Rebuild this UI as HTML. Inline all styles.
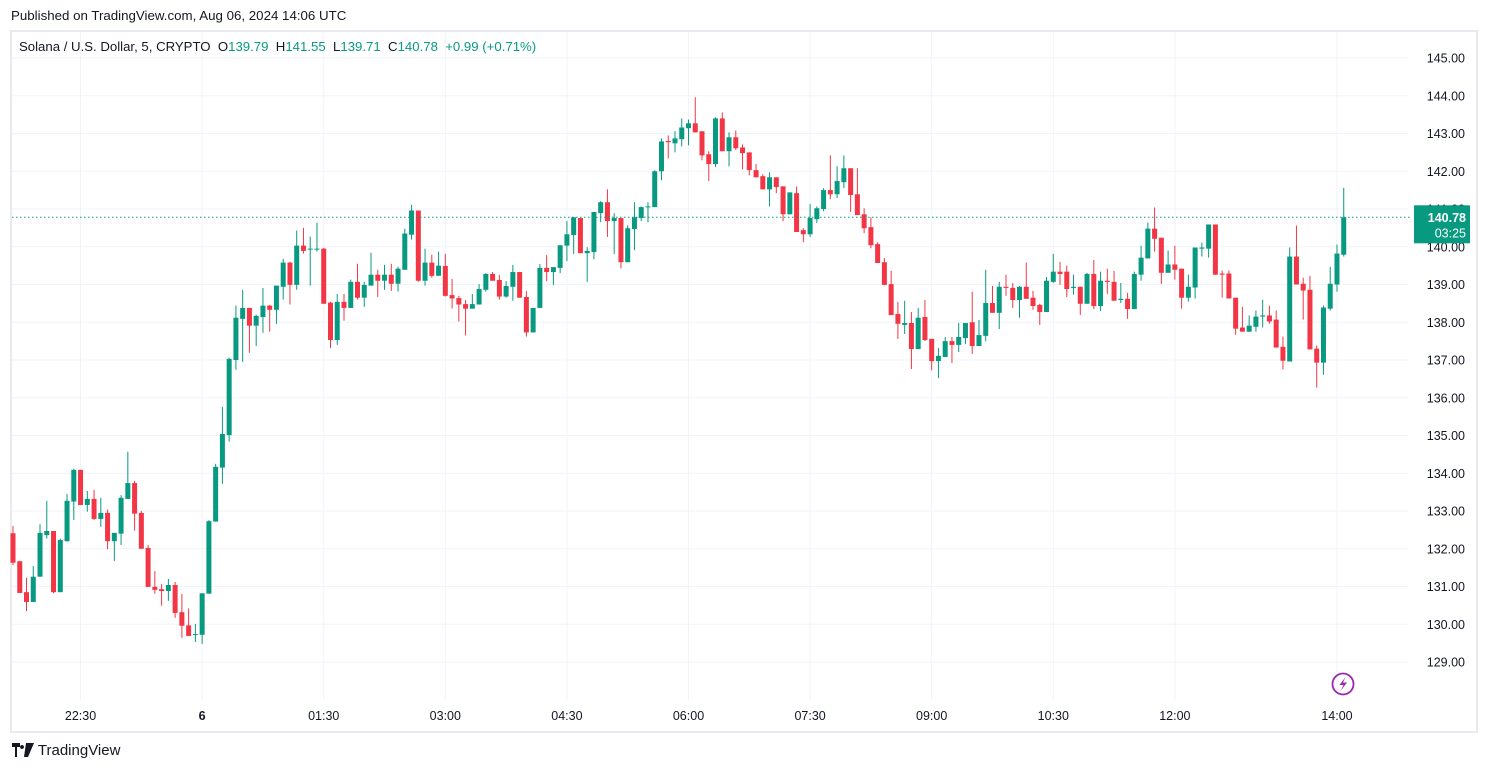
<!DOCTYPE html>
<html><head><meta charset="utf-8">
<style>
html,body{margin:0;padding:0;background:#fff;width:1485px;height:770px;overflow:hidden;font-family:"Liberation Sans",sans-serif;}
#pub{position:absolute;left:11px;top:8px;font-size:13.3px;color:#131722;}
#frame{position:absolute;left:10px;top:30px;width:1464px;height:699px;border:2px solid #e8eaf0;box-sizing:content-box;}
#legend{position:absolute;left:19px;top:39px;font-size:13.2px;color:#131722;white-space:pre;}
#legend .g{color:#089981;}
#brand{position:absolute;left:12px;top:741px;font-size:15px;color:#131722;}
svg{position:absolute;left:0;top:0;}
</style></head><body>
<div id="pub">Published on TradingView.com, Aug 06, 2024 14:06 UTC</div>
<div id="frame"></div>
<svg id="chart" width="1485" height="770"></svg>
<div id="legend">Solana / U.S. Dollar, 5, CRYPTO  O<span class="g">139.79</span>  H<span class="g">141.55</span>  L<span class="g">139.71</span>  C<span class="g">140.78</span>  <span class="g">+0.99 (+0.71%)</span></div>
<div id="brand"><svg width="22" height="14" style="position:relative;left:0;top:2px" viewBox="0 0 22 14"><path d="M0 0h8v4H5v10H3V4H0z M9 0h3l0 0 M10 2a2 2 0 1 0 .01 0z M14 0h8l-6 14h-4z" fill="#131722"/></svg> TradingView</div>
<script>
const opens=[132.41,131.67,130.85,130.59,131.26,132.36,132.47,130.85,132.20,133.25,134.09,133.16,133.32,132.79,132.95,132.20,132.40,133.32,133.74,132.95,132.02,130.99,130.93,130.88,131.04,130.32,129.97,129.72,129.72,130.81,132.72,134.15,135.01,137.0,138.09,138.38,137.91,138.14,138.44,138.33,138.94,139.58,138.99,140.03,139.93,139.93,139.95,138.52,137.53,138.54,138.38,139.07,138.65,138.97,139.26,139.10,139.26,139.02,139.39,140.32,140.96,139.10,139.58,139.23,139.49,138.72,138.64,138.48,138.36,138.47,138.86,139.28,139.12,138.68,138.94,139.33,138.67,137.73,138.38,139.44,139.33,139.44,140.03,140.31,140.76,139.83,139.86,140.89,141.18,140.68,140.76,139.59,140.47,140.76,141.05,141.05,142.0,142.80,142.74,142.85,143.14,143.27,143.06,142.45,142.19,143.40,142.53,142.90,142.63,142.50,142.03,141.87,141.52,141.84,141.60,140.86,141.42,140.44,140.33,140.73,141.0,141.50,141.39,141.71,142.08,141.39,140.86,140.52,140.07,139.59,139.01,138.22,137.93,137.98,137.29,138.14,137.56,136.97,137.08,137.50,137.40,137.58,138.0,137.37,137.64,138.51,138.25,138.94,138.91,138.59,138.94,138.65,138.46,138.27,139.07,139.34,139.34,138.91,138.94,138.49,139.28,138.43,139.10,139.07,138.59,138.62,138.35,139.26,139.69,140.48,140.24,139.31,139.53,139.42,138.65,138.92,139.95,139.95,140.59,139.29,139.29,138.65,137.86,137.75,137.88,138.15,138.18,138.07,137.35,136.96,139.74,139.02,138.86,137.30,136.93,138.36,139.0,139.79];
const closes=[131.63,130.83,130.59,131.26,132.42,132.47,130.85,132.23,133.27,134.09,133.16,133.32,132.79,132.95,132.20,132.42,133.35,133.74,132.93,132.00,130.99,130.91,130.88,131.04,130.30,129.96,129.69,129.74,130.82,132.73,134.17,135.04,137.03,138.12,138.38,137.91,138.17,138.44,138.33,138.97,139.58,138.99,140.03,139.89,139.95,139.95,138.49,137.53,138.54,138.38,139.07,138.65,138.99,139.26,139.10,139.26,139.02,139.42,140.35,140.96,139.10,139.58,139.23,139.50,138.70,138.63,138.47,138.36,138.48,138.88,139.28,139.10,138.68,138.96,139.33,138.65,137.73,138.38,139.44,139.33,139.46,140.04,140.33,140.78,139.83,139.89,140.92,141.18,140.68,140.76,139.59,140.49,140.78,141.05,141.07,142.0,142.79,142.77,142.87,143.16,143.27,143.03,142.42,142.19,143.40,142.53,142.90,142.61,142.48,142.03,141.84,141.52,141.84,141.58,140.86,141.44,140.39,140.33,140.76,141.02,141.50,141.39,141.74,142.08,141.37,140.84,140.49,140.04,139.57,138.99,138.19,137.96,137.98,137.29,138.12,137.53,136.97,137.11,137.50,137.40,137.61,137.98,137.37,137.66,138.51,138.25,138.94,138.91,138.59,138.94,138.62,138.43,138.27,139.10,139.34,139.28,138.88,138.94,138.49,139.28,138.43,139.10,139.07,138.57,138.62,138.35,139.28,139.71,140.48,140.21,139.31,139.53,139.39,138.65,138.94,139.98,139.98,140.59,139.26,139.26,138.63,137.83,137.75,137.91,138.15,138.18,138.02,137.33,136.98,139.74,139.0,138.84,137.28,136.93,138.39,139.02,139.82,140.78];
const highs=[132.60,131.67,131.23,131.54,132.65,133.27,132.47,132.27,133.45,134.12,134.09,133.53,133.56,133.35,133.04,132.42,133.42,134.57,133.80,133.00,132.10,131.41,131.07,131.20,131.12,130.80,130.42,130.01,130.82,132.76,134.25,135.76,137.06,138.44,138.86,138.38,138.20,138.91,138.46,138.97,139.68,139.60,140.43,140.50,140.27,140.64,139.97,138.54,138.75,138.75,139.13,139.55,139.07,139.84,139.39,139.52,139.55,139.47,140.48,141.11,140.96,139.95,139.79,139.87,139.81,139.15,138.70,138.59,138.75,139.01,139.30,139.33,139.25,139.09,139.52,139.33,138.83,138.38,139.54,139.78,139.46,140.04,140.68,140.78,140.76,139.99,140.92,141.21,141.52,140.89,140.76,140.57,141.18,141.07,141.18,142.03,142.87,142.95,143.06,143.40,143.37,143.96,143.06,142.53,143.43,143.56,143.03,143.08,142.71,142.50,142.19,141.92,141.97,141.84,141.60,141.44,141.60,140.49,141.13,141.07,141.55,142.42,142.13,142.42,142.08,142.08,141.02,140.78,140.12,139.70,139.36,138.54,138.57,138.27,138.38,138.59,137.56,137.32,137.61,137.61,137.98,137.98,138.81,138.06,139.39,138.96,139.07,139.26,139.04,138.96,139.58,138.83,138.49,139.20,139.81,139.60,139.50,139.26,138.94,139.31,139.65,139.34,139.42,139.36,139.04,138.78,139.34,140.03,140.64,141.04,140.24,139.90,140.03,139.42,139.26,139.98,140.11,140.59,140.59,139.37,139.37,138.65,138.41,138.18,138.31,138.60,138.44,138.31,137.62,139.98,140.56,139.18,139.23,137.38,138.44,139.47,140.06,141.56];
const lows=[131.57,130.83,130.35,130.59,131.26,132.27,130.82,130.85,132.19,132.76,133.16,132.98,132.76,132.58,131.99,131.68,132.10,133.32,132.48,132.00,130.99,130.81,130.49,130.62,130.17,129.64,129.69,129.53,129.48,130.81,132.72,133.72,134.84,136.74,136.95,137.19,137.37,137.72,137.75,137.96,138.60,138.47,138.86,139.82,138.97,139.87,138.49,137.32,137.40,138.04,138.38,138.60,138.41,138.97,138.67,138.86,138.83,138.81,139.39,140.19,139.07,138.97,139.18,139.23,138.68,138.36,138.02,137.65,138.36,138.47,138.81,139.10,138.60,138.65,138.57,138.65,137.62,137.73,138.38,139.09,138.99,139.30,139.62,139.81,139.83,139.07,139.67,140.65,140.26,139.81,139.43,139.59,139.91,140.68,140.65,141.05,141.76,142.34,142.50,142.66,142.69,143.03,142.29,141.74,142.11,142.53,142.13,142.56,142.05,141.89,141.84,141.52,141.07,141.42,140.68,140.86,140.39,140.12,140.26,140.63,140.94,141.26,141.29,141.55,140.92,140.84,140.36,139.96,139.57,138.99,138.19,137.56,137.69,136.76,137.29,137.50,136.73,136.52,137.08,136.92,137.21,137.42,137.16,137.37,137.50,138.25,137.82,138.70,138.38,138.12,138.62,138.33,137.93,138.27,139.04,138.99,138.67,138.73,138.19,138.49,138.35,138.30,138.75,138.57,138.51,138.09,138.35,139.10,139.69,139.87,139.02,139.31,139.13,138.36,138.55,138.63,139.74,139.71,139.26,138.65,138.63,137.67,137.75,137.75,137.75,137.86,137.96,137.33,136.75,136.96,139.0,138.07,137.28,136.27,136.61,138.31,138.81,139.74];
const priceTicks=[145,144,143,142,141,140,139,138,137,136,135,134,133,132,131,130,129];
const timeLabels=["22:30","6","01:30","03:00","04:30","06:00","07:30","09:00","10:30","12:00","14:00"];
const timeLabelIndex=[10,28,46,64,82,100,118,136,154,172,196];

const NS="http://www.w3.org/2000/svg";
const svg=document.getElementById('chart');
function yOf(p){return 58+(145-p)*37.75;}
function xOf(i){return 13+i*6.755;}
function mk(tag,attrs,parent){const e=document.createElementNS(NS,tag);for(const k in attrs)e.setAttribute(k,attrs[k]);(parent||svg).appendChild(e);return e;}

const grid=mk('g',{});


priceTicks.forEach(p=>{
  const l=mk('line',{x1:12,x2:1408,y1:yOf(p),y2:yOf(p),stroke:'#f0f3fa','stroke-width':1},grid);
  
  
  const t=mk('text',{x:1465,y:yOf(p)+4.5,'text-anchor':'end','font-size':'12.5','fill':'#131722','font-family':'Liberation Sans, sans-serif'});
  t.textContent=p.toFixed(2);
  
  
});
timeLabels.forEach((s,k)=>{
  const x=xOf(timeLabelIndex[k]);
  const l=mk('line',{x1:x,x2:x,y1:32,y2:700,stroke:'#f0f3fa','stroke-width':1},grid);
  
  
  const t=mk('text',{x:x,y:720,'text-anchor':'middle','font-size':'12.5','fill':'#131722','font-family':'Liberation Sans, sans-serif','font-weight':s==='6'?'bold':'normal'});
  t.textContent=s;
  
  
});

const cg=mk('g',{});


for(let i=0;i<opens.length;i++){
  const o=opens[i],c=closes[i],h=highs[i],l=lows[i];
  const col=c>=o?'#089981':'#f23645';
  const x=xOf(i);
  const w=mk('line',{x1:x,x2:x,y1:yOf(h),y2:yOf(l),stroke:col,'stroke-width':1},cg);
  
  
  const top=yOf(Math.max(o,c)),bot=yOf(Math.min(o,c));
  const b=mk('rect',{x:x-2.5,y:top,width:5,height:Math.max(1,bot-top),fill:col},cg);
  
  
}
const last=closes[closes.length-1];
const pl=mk('line',{x1:12,x2:1412,y1:yOf(last),y2:yOf(last),stroke:'#089981','stroke-width':1,'stroke-dasharray':'1.5,2.5'});


const lb=mk('rect',{x:1414,y:yOf(last)-12,width:56,height:38,fill:'#089981'});


const t1=mk('text',{x:1466,y:yOf(last)+4.5,'text-anchor':'end','font-size':'12.5','font-weight':'bold','fill':'#fff','font-family':'Liberation Sans, sans-serif'});
t1.textContent=last.toFixed(2);


const t2=mk('text',{x:1466,y:yOf(last)+20,'text-anchor':'end','font-size':'12.5','fill':'#fff','font-family':'Liberation Sans, sans-serif'});
t2.textContent='03:25';


const ic=mk('g',{});


mk('circle',{cx:1343,cy:684,r:10.5,fill:'none',stroke:'#9c27b0','stroke-width':1.8},ic);
mk('path',{d:'M1345.5 677 L1339.5 685 L1343.5 685 L1340.5 691 L1347 682.5 L1343 682.5 Z',fill:'#9c27b0'},ic);
</script>
</body></html>
